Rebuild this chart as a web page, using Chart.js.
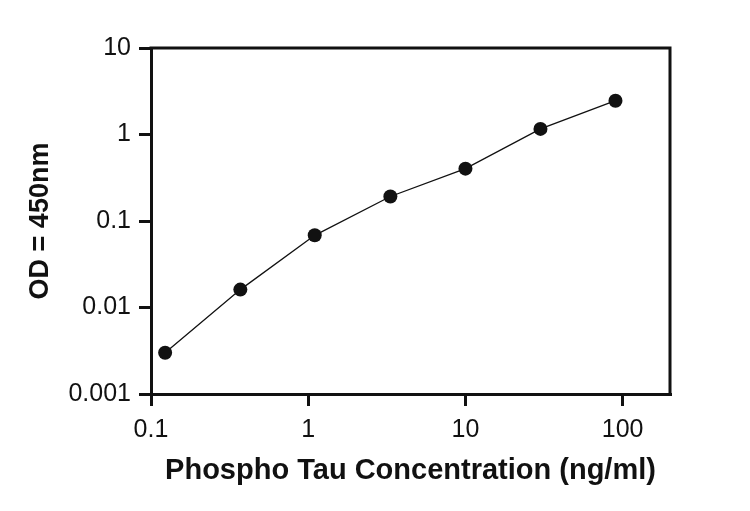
<!DOCTYPE html>
<html>
<head>
<meta charset="utf-8">
<script src="https://cdn.jsdelivr.net/npm/chart.js@4"></script>
<style>
  html, body { margin: 0; padding: 0; background: #fff; }
  #wrap { width: 750px; height: 511px; }
</style>
</head>
<body>
<div id="wrap"><canvas id="odChart"></canvas></div>
<script>
// concentration (ng/ml) and OD readings
const concentrations = [0.123, 0.37, 1.1, 3.33, 10, 30, 90];
const odValues = [0.003, 0.0161, 0.0683, 0.192, 0.403, 1.16, 2.46];

const xTicks = [0.1, 1, 10, 100];
const yTicks = [0.001, 0.01, 0.1, 1, 10];

const ink = '#111';

// top and right sides of the box
const frame = {
    id: 'frame',
    afterDraw(chart) {
        const { ctx, chartArea: a } = chart;
        ctx.save();
        ctx.strokeStyle = ink;
        ctx.lineWidth = 3;
        ctx.beginPath();
        ctx.moveTo(a.left - 1.5, a.top);
        ctx.lineTo(a.right, a.top);
        ctx.lineTo(a.right, a.bottom + 1.5);
        ctx.stroke();
        ctx.restore();
    }
};

const tickFont = { family: 'Liberation Sans, Arial, sans-serif', size: 25 };

new Chart(document.getElementById('odChart'), {
    type: 'scatter',
    data: {
        datasets: [{
            data: concentrations.map((c, i) => ({ x: c, y: odValues[i] })),
            showLine: true,
            borderColor: ink,
            borderWidth: 1.3,
            pointRadius: 7,
            pointBackgroundColor: ink,
            pointBorderWidth: 0
        }]
    },
    options: {
        responsive: true,
        maintainAspectRatio: false,
        animation: false,
        layout: { padding: { top: 48, right: 80, left: 0, bottom: 0 } },
        plugins: { legend: { display: false }, tooltip: { enabled: false } },
        scales: {
            x: {
                type: 'logarithmic',
                min: 0.1,
                max: 200,
                afterBuildTicks: axis => { axis.ticks = xTicks.map(v => ({ value: v })); },
                afterFit: axis => { axis.height = 117; },
                border: { color: ink, width: 3 },
                grid: { drawOnChartArea: false, tickLength: 12, lineWidth: 3, color: ink },
                ticks: { color: ink, font: tickFont, padding: 9, maxRotation: 0, callback: v => String(v) },
                title: {
                    display: true,
                    text: 'Phospho Tau Concentration (ng/ml)',
                    color: ink,
                    font: { family: 'Liberation Sans, Arial, sans-serif', size: 29, weight: 'bold' },
                    padding: { bottom: 23 }
                }
            },
            y: {
                type: 'logarithmic',
                min: 0.001,
                max: 10,
                afterBuildTicks: axis => { axis.ticks = yTicks.map(v => ({ value: v })); },
                afterFit: axis => { axis.width = 151; },
                border: { color: ink, width: 3 },
                grid: { drawOnChartArea: false, tickLength: 12, lineWidth: 3, color: ink },
                ticks: { color: ink, font: tickFont, padding: 8, callback: v => String(v) },
                title: {
                    display: true,
                    text: 'OD = 450nm',
                    color: ink,
                    font: { family: 'Liberation Sans, Arial, sans-serif', size: 27, weight: 'bold' },
                    padding: { top: 24 }
                }
            }
        }
    },
    plugins: [frame]
});
</script>
</body>
</html>
